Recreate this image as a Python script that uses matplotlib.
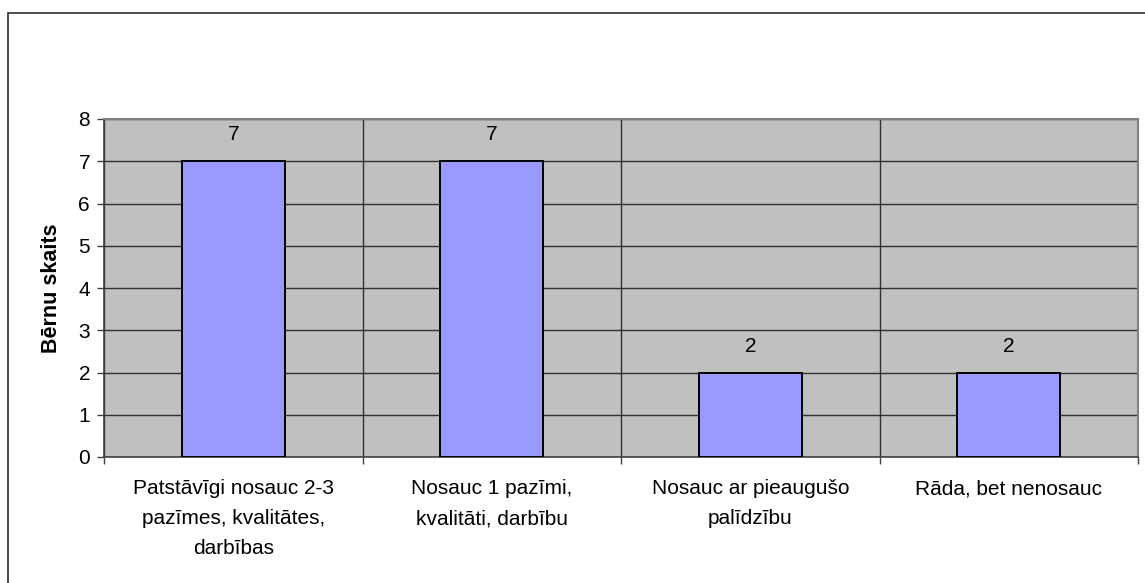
import numpy as np
import matplotlib.pyplot as plt
from matplotlib.patches import Rectangle

plt.rcParams['font.family'] = ['Liberation Sans', 'DejaVu Sans']

categories = ['Patstāvīgi nosauc 2-3\npazīmes, kvalitātes,\ndarbības',
              'Nosauc 1 pazīmi,\nkvalitāti, darbību',
              'Nosauc ar pieaugušo\npalīdzību',
              'Rāda, bet nenosauc']
values = [7, 7, 2, 2]
yticks = [0, 1, 2, 3, 4, 5, 6, 7, 8]

fig = plt.figure(figsize=(11.45, 5.83), dpi=100)
ax = fig.add_axes([104/1145, 1 - 457/583, (1138 - 104)/1145, (457 - 119)/583])

# outer frame of the chart object
fig.patches.append(Rectangle((8/1145, -0.05), 1.1, 1 - 13/583 + 0.05,
                             transform=fig.transFigure, fill=False,
                             ec='#303030', lw=1.2))

x = np.arange(len(categories))
ax.set_facecolor('#C0C0C0')
ax.bar(x, values, width=0.4, color='#9999FF', edgecolor='black', lw=1.4, zorder=3)

for xi, v in zip(x, values):
    ax.text(xi, v + 0.4, str(v), ha='center', va='bottom', fontsize=15)

ax.set_xlim(-0.5, len(categories) - 0.5)
ax.set_ylim(0, 8)
ax.set_yticks(yticks)
ax.set_xticks(x)
ax.set_xticklabels(categories, fontsize=15, linespacing=1.72)
ax.tick_params(axis='x', length=0, pad=16)
ax.tick_params(axis='y', labelsize=15, length=5, width=1, color='#404040', pad=5)
ax.set_xticks(np.arange(len(categories) + 1) - 0.5, minor=True)
ax.tick_params(axis='x', which='minor', length=5, width=1, color='#404040')

ax.yaxis.grid(True, color='#303030', lw=1, zorder=1)
ax.xaxis.grid(True, which='minor', color='#303030', lw=1, zorder=1)
ax.set_axisbelow(True)

for s in ['left', 'bottom']:
    ax.spines[s].set_color('#404040')
    ax.spines[s].set_linewidth(1.2)
for s in ['top', 'right']:
    ax.spines[s].set_color('#808080')
    ax.spines[s].set_linewidth(1.5)

ax.set_ylabel('Bērnu skaits', fontsize=15.5, fontweight='bold', labelpad=12)

fig.savefig('out.png', dpi=100)
